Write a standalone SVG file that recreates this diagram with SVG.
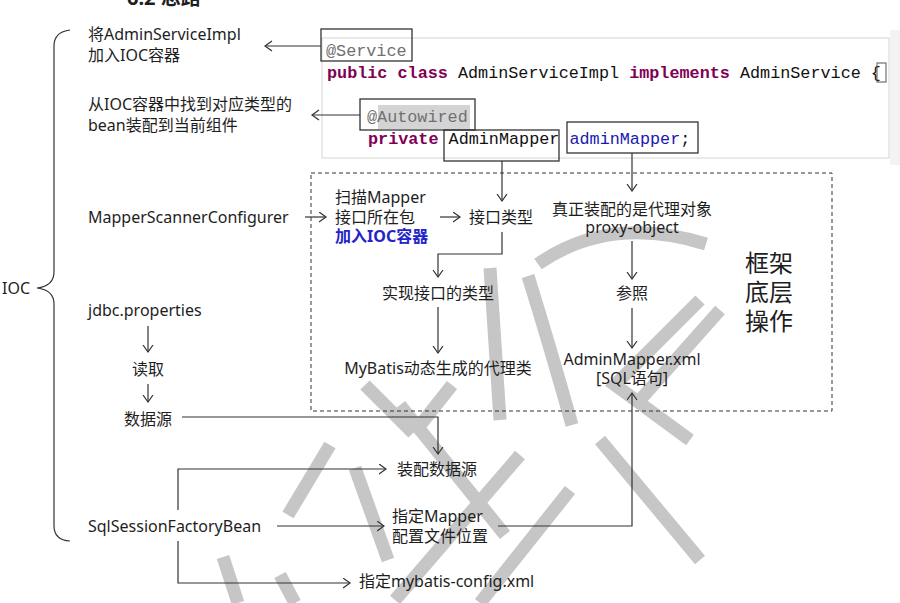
<svg xmlns="http://www.w3.org/2000/svg" width="900" height="603" viewBox="0 0 900 603">
<style>
.t{font-family:"Noto Sans","Noto Sans CJK SC",sans-serif;font-size:16px;fill:#1e1e1e}
.big{font-size:24px}
.blue{fill:#2424c8;font-weight:bold}
.code{font-family:"Liberation Mono",monospace;font-size:16.8px;fill:#111}
.kw{fill:#7f0055;font-weight:bold}
.ann{fill:#707070}
.vb{fill:#1a1ab0}
.box{fill:none;stroke:#333;stroke-width:1.3}
.c{fill:none;stroke:#333;stroke-width:1.2}
.wm{fill:none;stroke:#c6c6c6;stroke-width:13}
</style>
<defs>
<marker id="ah" markerUnits="userSpaceOnUse" markerWidth="10" markerHeight="12" refX="7.5" refY="5.5" orient="auto">
<path d="M0.5,0.5 L7.5,5.5 L0.5,10.5" fill="none" stroke="#333" stroke-width="1.2"/>
</marker>
</defs>
<rect width="900" height="603" fill="#fff"/>

<g id="watermark">
<path class="wm" d="M538,264 Q610,214 706,244" stroke-width="12"/>
<path class="wm" d="M528,276 Q548,340 572,425"/>
<path class="wm" d="M490,268 L500,420" stroke-width="11"/>
<path class="wm" d="M365,385 L413,433"/>
<path class="wm" d="M452,385 L414,433"/>
<path class="wm" d="M400,405 L505,535"/>
<path class="wm" d="M520,455 L395,600"/>
<path class="wm" d="M330,445 L288,515"/>
<path class="wm" d="M223,557 L238,603"/>
<path class="wm" d="M280,575 L295,603"/>
<path class="wm" d="M355,468 L388,560"/>
<path class="wm" d="M570,490 L480,603"/>
<path class="wm" d="M700,300 L615,385 L690,440"/>
<path class="wm" d="M600,440 L700,560"/>
<path class="wm" d="M640,400 L720,310"/>
</g>

<g id="title"><text class="t" x="127" y="5" style="font-size:20px;font-weight:bold">6.2  思路</text></g>

<g id="brace"><path class="c" d="M70,30 Q54,32 54,46 L54,272 Q54,286 37,288 Q54,290 54,304 L54,526 Q54,540 70,541" stroke="#555"/>
<text class="t" x="2" y="294">IOC</text></g>

<g id="code">
<rect x="322" y="38" width="567" height="120" fill="#fff" stroke="#d4d4d4" stroke-width="1"/>
<rect x="890" y="30" width="10" height="135" fill="#f3f3f3"/>
<rect x="378" y="105" width="92" height="24" fill="#d4d4d4"/>
<text class="code ann" x="326" y="56">@Service</text>
<text class="code" x="327" y="78"><tspan class="kw">public</tspan> <tspan class="kw">class</tspan> AdminServiceImpl <tspan class="kw">implements</tspan> AdminService {</text>
<rect x="877" y="63" width="9" height="19" fill="none" stroke="#555" stroke-width="1"/>
<text class="code ann" x="367" y="122">@Autowired</text>
<text class="code" x="368" y="144"><tspan class="kw">private</tspan> AdminMapper <tspan class="vb">adminMapper</tspan>;</text>
</g>

<g id="n-service"><rect class="box" x="321" y="29" width="91" height="32"/></g>
<g id="n-autowired"><rect class="box" x="360" y="99" width="115" height="31"/></g>
<g id="n-adminmapper-type"><rect class="box" x="444" y="130" width="115" height="31"/></g>
<g id="n-adminmapper-var"><rect class="box" x="567" y="122" width="131" height="31"/></g>

<g id="n-add-ioc"><text class="t" x="88" y="40">将AdminServiceImpl<tspan x="88" dy="21">加入IOC容器</tspan></text></g>
<g id="n-find"><text class="t" x="88" y="110">从IOC容器中找到对应类型的<tspan x="88" dy="21">bean装配到当前组件</tspan></text></g>
<g id="n-msc"><text class="t" x="88" y="223">MapperScannerConfigurer</text></g>
<g id="n-jdbc"><text class="t" x="88" y="316">jdbc.properties</text></g>
<g id="n-read"><text class="t" x="148" y="375" text-anchor="middle">读取</text></g>
<g id="n-ds"><text class="t" x="148" y="425" text-anchor="middle">数据源</text></g>
<g id="n-ssfb"><text class="t" x="88" y="532">SqlSessionFactoryBean</text></g>

<g id="framework">
<rect x="311" y="173" width="521" height="238" fill="none" stroke="#333" stroke-width="1" stroke-dasharray="4,3"/>
<text class="t big" x="745" y="272">框架<tspan x="745" dy="29">底层</tspan><tspan x="745" dy="29">操作</tspan></text>
</g>
<g id="n-scan"><text class="t" x="335" y="203">扫描Mapper<tspan x="335" dy="20">接口所在包</tspan><tspan x="335" dy="19" class="blue">加入IOC容器</tspan></text></g>
<g id="n-iface"><text class="t" x="469" y="223">接口类型</text></g>
<g id="n-impl"><text class="t" x="438" y="299" text-anchor="middle">实现接口的类型</text></g>
<g id="n-proxyclass"><text class="t" x="438" y="374" text-anchor="middle">MyBatis动态生成的代理类</text></g>
<g id="n-proxyobj"><text class="t" x="632" y="215" text-anchor="middle">真正装配的是代理对象<tspan x="632" dy="18">proxy-object</tspan></text></g>
<g id="n-ref"><text class="t" x="632" y="299" text-anchor="middle">参照</text></g>
<g id="n-xml"><text class="t" x="632" y="365" text-anchor="middle">AdminMapper.xml<tspan x="632" dy="19">[SQL语句]</tspan></text></g>
<g id="n-setds"><text class="t" x="397" y="475">装配数据源</text></g>
<g id="n-mapperloc"><text class="t" x="392" y="522">指定Mapper<tspan x="392" dy="20">配置文件位置</tspan></text></g>
<g id="n-config"><text class="t" x="359" y="587">指定mybatis-config.xml</text></g>

<g id="connectors">
<path class="c" d="M321,46 L265,46" marker-end="url(#ah)"/>
<path class="c" d="M360,115 L312,115" marker-end="url(#ah)"/>
<path class="c" d="M305,217 L326,217" marker-end="url(#ah)"/>
<path class="c" d="M440,217 L460,217" marker-end="url(#ah)"/>
<path class="c" d="M502,161 L502,201" marker-end="url(#ah)"/>
<path class="c" d="M502,232 L502,254 L438,254 L438,277" marker-end="url(#ah)"/>
<path class="c" d="M438,307 L438,353" marker-end="url(#ah)"/>
<path class="c" d="M632,153 L632,191" marker-end="url(#ah)"/>
<path class="c" d="M632,241 L632,279" marker-end="url(#ah)"/>
<path class="c" d="M632,308 L632,348" marker-end="url(#ah)"/>
<path class="c" d="M498,526 L632,526 L632,393" marker-end="url(#ah)"/>
<path class="c" d="M148,326 L148,352" marker-end="url(#ah)"/>
<path class="c" d="M148,384 L148,402" marker-end="url(#ah)"/>
<path class="c" d="M182,417 L438,417 L438,454" marker-end="url(#ah)"/>
<path class="c" d="M178,510 L178,469 L386,469" marker-end="url(#ah)"/>
<path class="c" d="M277,526 L384,526" marker-end="url(#ah)"/>
<path class="c" d="M178,541 L178,583 L350,583" marker-end="url(#ah)"/>
</g>
</svg>
